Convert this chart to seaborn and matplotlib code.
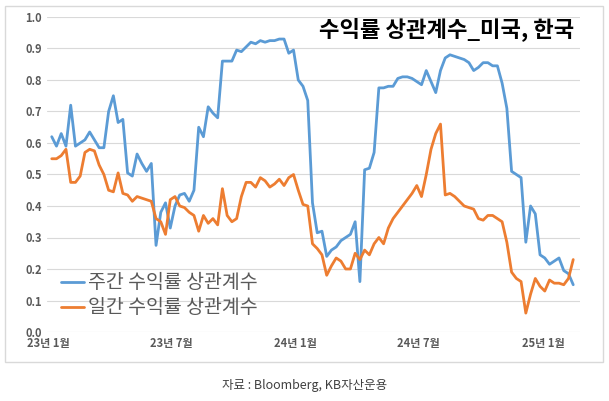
import matplotlib

matplotlib.use("Agg")

import matplotlib.pyplot as plt
import matplotlib.ticker as mticker
import pandas as pd
import seaborn as sns

CJK_FONTS = ["Noto Sans CJK KR", "Noto Sans CJK JP", "Noto Sans CJK SC", "Noto Sans CJK TC", "DejaVu Sans"]

dates = pd.date_range("2023-01-06", periods=111, freq="W-FRI")

weekly_corr = [
    0.62, 0.59, 0.63, 0.59, 0.72, 0.59, 0.60, 0.61, 0.635, 0.61,
    0.585, 0.585, 0.70, 0.75, 0.665, 0.675, 0.505, 0.495, 0.565, 0.535,
    0.51, 0.535, 0.275, 0.38, 0.41, 0.33, 0.40, 0.435, 0.44, 0.415,
    0.45, 0.65, 0.62, 0.715, 0.695, 0.68, 0.86, 0.86, 0.86, 0.895,
    0.89, 0.905, 0.92, 0.915, 0.925, 0.92, 0.925, 0.925, 0.93, 0.93,
    0.885, 0.895, 0.80, 0.78, 0.735, 0.41, 0.315, 0.32, 0.24, 0.26,
    0.27, 0.29, 0.30, 0.31, 0.35, 0.16, 0.515, 0.52, 0.57, 0.775,
    0.775, 0.78, 0.78, 0.805, 0.81, 0.81, 0.805, 0.795, 0.785, 0.83,
    0.795, 0.76, 0.83, 0.87, 0.88, 0.875, 0.87, 0.865, 0.855, 0.83,
    0.84, 0.855, 0.855, 0.845, 0.845, 0.79, 0.71, 0.51, 0.50, 0.49,
    0.285, 0.40, 0.375, 0.245, 0.235, 0.215, 0.225, 0.235, 0.195, 0.185,
    0.15,
]

daily_corr = [
    0.55, 0.55, 0.56, 0.58, 0.475, 0.475, 0.495, 0.57, 0.58, 0.575,
    0.53, 0.50, 0.45, 0.445, 0.505, 0.44, 0.435, 0.415, 0.43, 0.425,
    0.42, 0.415, 0.36, 0.35, 0.31, 0.42, 0.43, 0.40, 0.395, 0.38,
    0.37, 0.32, 0.37, 0.345, 0.36, 0.34, 0.455, 0.37, 0.35, 0.36,
    0.43, 0.475, 0.475, 0.46, 0.49, 0.48, 0.46, 0.47, 0.485, 0.465,
    0.49, 0.50, 0.45, 0.405, 0.40, 0.28, 0.265, 0.245, 0.18, 0.21,
    0.235, 0.225, 0.20, 0.20, 0.25, 0.23, 0.26, 0.245, 0.28, 0.30,
    0.28, 0.33, 0.36, 0.38, 0.40, 0.42, 0.44, 0.465, 0.43, 0.50,
    0.58, 0.63, 0.66, 0.435, 0.44, 0.43, 0.415, 0.40, 0.395, 0.39,
    0.36, 0.355, 0.37, 0.37, 0.36, 0.35, 0.285, 0.19, 0.17, 0.16,
    0.06, 0.12, 0.17, 0.145, 0.13, 0.165, 0.155, 0.155, 0.15, 0.17,
    0.23,
]

tick_dates = pd.to_datetime(["2023-01-01", "2023-07-01", "2024-01-01", "2024-07-01", "2025-01-01"])
tick_labels = ["23년 1월", "23년 7월", "24년 1월", "24년 7월", "25년 1월"]

df = pd.DataFrame({
    "date": list(dates) * 2,
    "corr": weekly_corr + daily_corr,
    "series": ["주간 수익률 상관계수"] * 111 + ["일간 수익률 상관계수"] * 111,
})

sns.set_theme(style="white")
plt.rcParams["font.family"] = "sans-serif"
plt.rcParams["font.sans-serif"] = CJK_FONTS

fig = plt.figure(figsize=(6.09, 4.01), dpi=100)
ax = fig.add_axes([47 / 609, 1 - 332 / 401, (580 - 47) / 609, (332 - 17) / 401])

sns.lineplot(
    data=df, x="date", y="corr", hue="series",
    palette=["#5B9BD5", "#ED7D31"], linewidth=2, ax=ax,
)

ax.set_ylim(0, 1.0)
ax.set_yticks([i / 10 for i in range(11)])
ax.yaxis.set_major_formatter(mticker.FormatStrFormatter("%.1f"))
ax.set_xlim(pd.Timestamp("2022-12-30"), pd.Timestamp("2025-02-24"))
ax.set_xticks(tick_dates)
ax.set_xticklabels(tick_labels)
ax.tick_params(axis="both", labelsize=8, colors="#595959", length=0)
for lbl in ax.get_xticklabels() + ax.get_yticklabels():
    lbl.set_fontweight("bold")
ax.grid(axis="y", color="#D9D9D9", linewidth=0.8)
for s in ax.spines.values():
    s.set_visible(False)
ax.set_xlabel("")
ax.set_ylabel("")

ax.text(0.99, 1.0, "수익률 상관계수_미국, 한국", transform=ax.transAxes,
        ha="right", va="top", fontsize=16, fontweight="bold", color="black")

leg = ax.legend(loc="lower left", bbox_to_anchor=(0.0, 0.0), frameon=False,
                fontsize=14, handlelength=1.2, handletextpad=0.2, labelspacing=0.2,
                borderaxespad=0.3)
for t in leg.get_texts():
    t.set_color("#595959")

fig.patches.append(plt.Rectangle((5 / 609, 1 - 362 / 401), 598 / 609, 356 / 401,
                                 transform=fig.transFigure, fill=False,
                                 edgecolor="#D9D9D9", linewidth=1))
fig.text(0.5, 1 - 385 / 401, "자료 : Bloomberg, KB자산운용", ha="center", va="center",
         fontsize=9, color="#404040")

fig.savefig("out.png", dpi=100, facecolor="white")
